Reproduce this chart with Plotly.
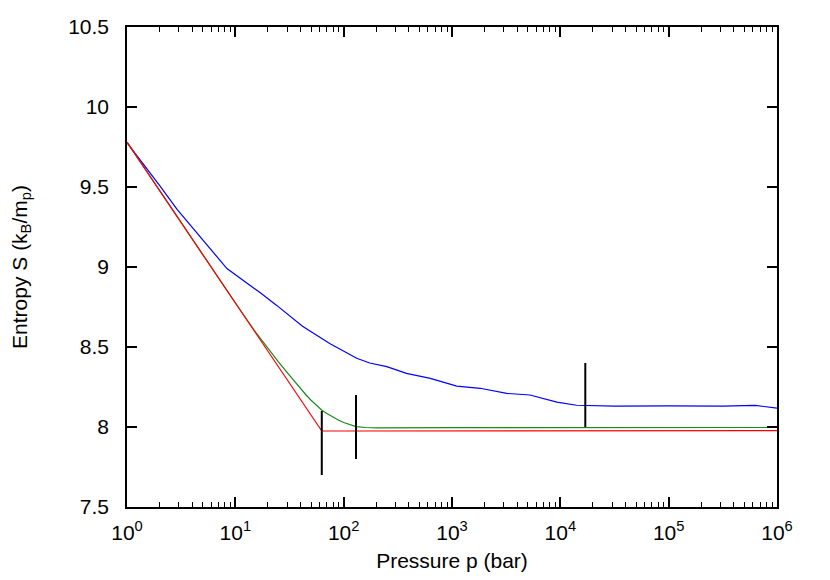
import plotly.graph_objects as go

# ---------------- data ----------------
red_p = [1, 62.8, 100, 1000, 1e4, 1e5, 1e6]
red_s = [9.78, 7.975, 7.975, 7.976, 7.977, 7.976, 7.977]

green_p = [1, 5, 10, 15, 20, 25, 30, 35, 40, 45, 50, 56, 63, 70, 80, 90, 100, 115, 130,
           160, 200, 1000, 1e4, 1e5, 6e5, 1e6]
green_s = [9.78, 9.075, 8.775, 8.603, 8.49, 8.407, 8.342, 8.287, 8.24, 8.20, 8.167, 8.135,
           8.105, 8.085, 8.06, 8.042, 8.028, 8.012, 8.002, 7.997, 7.995, 7.996, 7.997, 7.996,
           8.0, 7.997]

blue_p = [1, 1.435, 2.02, 2.9, 5.48, 8.37, 16.9, 24.1, 41.7, 75, 132, 174, 250, 380,
          631, 1107, 1820, 3206, 5250, 9290, 14125, 31623, 1e5, 3.16e5, 6.3e5, 1e6]
blue_s = [9.777, 9.64, 9.506, 9.36, 9.14, 8.99, 8.84, 8.76, 8.63, 8.52, 8.43, 8.40, 8.377,
          8.335, 8.304, 8.256, 8.242, 8.21, 8.20, 8.156, 8.136, 8.13, 8.132, 8.13, 8.135, 8.118]

bar_p = [62.8, 130, 17000]
bar_lo = [7.7, 7.8, 8.0]
bar_hi = [8.1, 8.2, 8.4]

x_tickvals = [1, 10, 100, 1000, 1e4, 1e5, 1e6]
x_ticktext = ["10<sup>%d</sup>" % k for k in range(7)]
y_tickvals = [7.5, 8, 8.5, 9, 9.5, 10, 10.5]
y_ticktext = ["7.5", "8", "8.5", "9", "9.5", "10", "10.5"]

# ---------------- figure ----------------
fig = go.Figure()

fig.add_trace(go.Scatter(x=blue_p, y=blue_s, mode="lines",
                         line=dict(color="#0000ff", width=1.2), showlegend=False))
fig.add_trace(go.Scatter(x=green_p, y=green_s, mode="lines",
                         line=dict(color="#1a8a1a", width=1.2), showlegend=False))
fig.add_trace(go.Scatter(x=red_p, y=red_s, mode="lines",
                         line=dict(color="#ff0000", width=1.2), showlegend=False))

bx, by = [], []
for p, lo, hi in zip(bar_p, bar_lo, bar_hi):
    bx += [p, p, None]
    by += [lo, hi, None]
fig.add_trace(go.Scatter(x=bx, y=by, mode="lines",
                         line=dict(color="black", width=2), showlegend=False))

font_family = "Liberation Sans, Arial, Helvetica, sans-serif"

# page body has an 8px margin, so the figure is 8px smaller and offsets shifted
fig.update_layout(
    width=822, height=572,
    margin=dict(l=119, r=53, t=19, b=73),
    paper_bgcolor="white", plot_bgcolor="white",
    font=dict(family=font_family, size=21, color="black"),
)

fig.update_xaxes(
    type="log", range=[0, 6], automargin=False,
    tickvals=x_tickvals, ticktext=x_ticktext,
    ticks="inside", ticklen=10, tickwidth=1.5, tickcolor="black",
    minor=dict(ticks="inside", ticklen=5, tickwidth=1, tickcolor="black", dtick="D1", showgrid=False),
    showline=True, linecolor="black", linewidth=1.5, mirror="allticks",
    showgrid=False, zeroline=False,
    ticklabelstandoff=6,
    tickfont=dict(size=21),
    title=dict(text="Pressure p (bar)", font=dict(size=21), standoff=10),
)
fig.update_yaxes(
    range=[7.5, 10.5], automargin=False,
    tickvals=y_tickvals, ticktext=y_ticktext,
    ticks="inside", ticklen=10, tickwidth=1.5, tickcolor="black",
    showline=True, linecolor="black", linewidth=1.5, mirror="allticks",
    showgrid=False, zeroline=False,
    ticklabelstandoff=12,
    tickfont=dict(size=21),
    title=dict(text="Entropy S (k<sub>B</sub>/m<sub>p</sub>)", font=dict(size=21), standoff=43),
)

fig.write_html("out.html")
